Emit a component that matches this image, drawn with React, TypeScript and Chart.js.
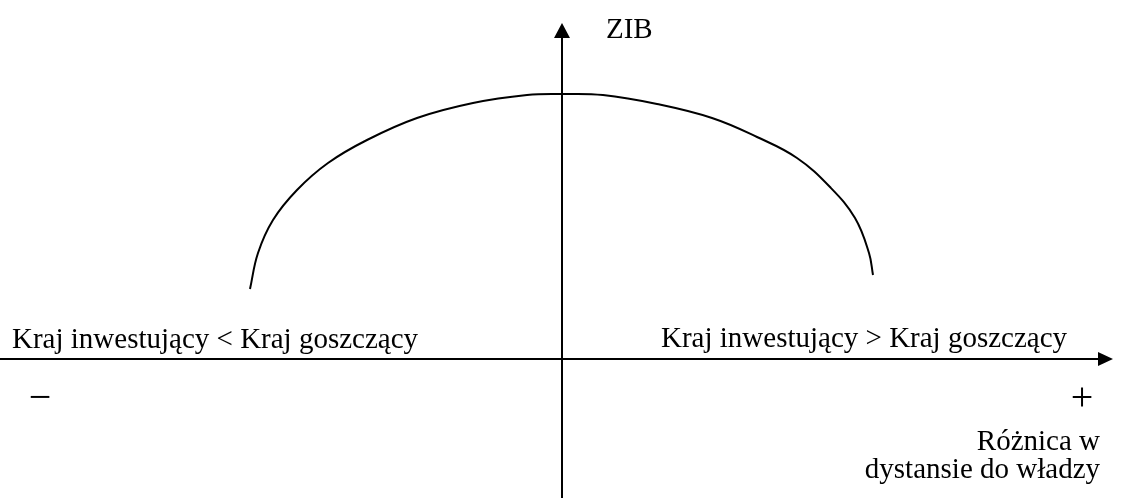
import React, { useEffect, useRef } from "react";
import { Chart, registerables } from "chart.js";

Chart.register(...registerables);

// Curve (ZIB vs difference in power distance)
const curveX = [-3.12, -3.04, -2.89, -2.65, -2.34, -1.95, -1.45, -0.89, -0.35, 0, 0.41, 0.95, 1.5, 1.95, 2.35, 2.68, 2.93, 3.07, 3.11];
const curveY = [0.7, 1.06, 1.39, 1.69, 1.96, 2.19, 2.41, 2.56, 2.64, 2.65, 2.64, 2.55, 2.41, 2.22, 2.01, 1.72, 1.41, 1.06, 0.84];

const xRange = [-5.62, 5.59];
const yRange = [-1.39, 3.59];

const yAxisTitle = "ZIB";
const leftLabel = "Kraj inwestujący < Kraj goszczący";
const rightLabel = "Kraj inwestujący > Kraj goszczący";
const minusLabel = "\u2212";
const plusLabel = "+";
const xAxisTitle = ["Różnica w", "dystansie do władzy"];

const FONT = "'Liberation Serif', 'Times New Roman', serif";

const diagramPlugin = {
  id: "diagram",
  afterDatasetsDraw(chart: any) {
    const { ctx, chartArea, scales } = chart;
    const x0 = scales.x.getPixelForValue(0);
    const y0 = scales.y.getPixelForValue(0);
    ctx.save();
    ctx.strokeStyle = "#000";
    ctx.fillStyle = "#000";
    ctx.lineWidth = 2;

    // horizontal axis
    const hTip = chartArea.right - 8;
    ctx.beginPath();
    ctx.moveTo(chartArea.left, y0);
    ctx.lineTo(hTip - 14, y0);
    ctx.stroke();
    ctx.beginPath();
    ctx.moveTo(hTip, y0);
    ctx.lineTo(hTip - 15, y0 - 7);
    ctx.lineTo(hTip - 15, y0 + 7);
    ctx.closePath();
    ctx.fill();

    // vertical axis
    const vTip = chartArea.top + 23;
    ctx.beginPath();
    ctx.moveTo(x0, chartArea.bottom);
    ctx.lineTo(x0, vTip + 14);
    ctx.stroke();
    ctx.beginPath();
    ctx.moveTo(x0, vTip);
    ctx.lineTo(x0 - 8, vTip + 15);
    ctx.lineTo(x0 + 8, vTip + 15);
    ctx.closePath();
    ctx.fill();

    // texts
    ctx.textBaseline = "alphabetic";
    ctx.font = `29px ${FONT}`;
    ctx.textAlign = "left";
    ctx.fillText(yAxisTitle, x0 + 44, chartArea.top + 38);
    ctx.fillText(leftLabel, chartArea.left + 12, y0 - 11);
    ctx.fillText(rightLabel, x0 + 99, y0 - 12);
    ctx.textAlign = "right";
    ctx.fillText(xAxisTitle[0], chartArea.right - 21, y0 + 91);
    ctx.fillText(xAxisTitle[1], chartArea.right - 21, y0 + 119);

    ctx.font = `40px ${FONT}`;
    ctx.textAlign = "center";
    ctx.fillText(minusLabel, chartArea.left + 40, y0 + 51);
    ctx.fillText(plusLabel, chartArea.right - 39, y0 + 51);
    ctx.restore();
  },
};

export default function App() {
  const ref = useRef<HTMLCanvasElement | null>(null);
  useEffect(() => {
    if (!ref.current) return;
    const chart = new Chart(ref.current, {
      type: "scatter",
      data: {
        datasets: [
          {
            data: curveX.map((x, i) => ({ x, y: curveY[i] })),
            showLine: true,
            borderColor: "#000",
            borderWidth: 2,
            pointRadius: 0,
            tension: 0.4,
            fill: false,
          },
        ],
      },
      options: {
        responsive: false,
        animation: false,
        devicePixelRatio: 1,
        layout: { padding: 0 },
        plugins: { legend: { display: false }, tooltip: { enabled: false }, title: { display: false } },
        scales: {
          x: { type: "linear", min: xRange[0], max: xRange[1], display: false },
          y: { type: "linear", min: yRange[0], max: yRange[1], display: false },
        },
      },
      plugins: [diagramPlugin],
    });
    return () => chart.destroy();
  }, []);
  return (
    <div style={{ position: "fixed", left: 0, top: 0, width: 1121, height: 498, background: "#fff" }}>
      <canvas ref={ref} width={1121} height={498} style={{ width: 1121, height: 498, display: "block" }} />
    </div>
  );
}
